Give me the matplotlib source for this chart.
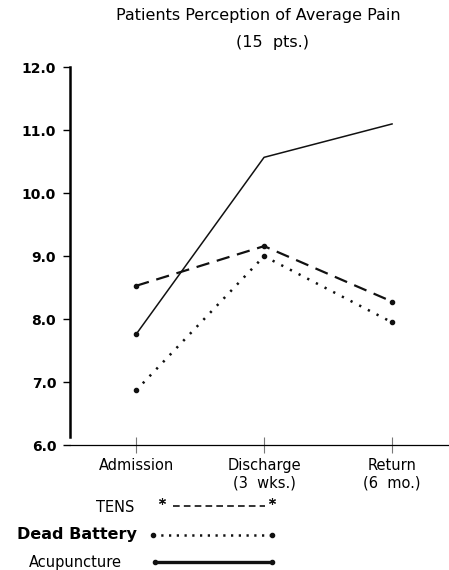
import matplotlib
matplotlib.use('Agg')
import matplotlib.pyplot as plt
from matplotlib.lines import Line2D

plt.rcParams['font.family'] = ['DejaVu Sans']

# данные
stages = ['Admission', 'Discharge\n(3  wks.)', 'Return\n(6  mo.)']
tens = [8.53, 9.16, 8.28]
dead_battery = [6.87, 9.00, 7.95]
acupuncture = [7.76, 10.57, 11.10]
y_ticks = [6.0, 7.0, 8.0, 9.0, 10.0, 11.0, 12.0]
legend_names = ['TENS', 'Dead Battery', 'Acupuncture']

ink = '#111111'

fig = plt.figure(figsize=(4.49, 5.70), dpi=100)
ax = fig.add_axes([0.156, 0.219, 0.844, 0.663])

x = list(range(len(stages)))
ax.plot(x, tens, color=ink, lw=1.6, dashes=(6, 3.5), marker='o', ms=3)
ax.plot(x, dead_battery, color=ink, lw=1.8, dashes=(0.9, 3), marker='o', ms=3)
ax.plot(x, acupuncture, color=ink, lw=1.1, marker='o', ms=3, markevery=[0])

ax.set_xlim(-0.516, 2.445)
ax.set_ylim(6.0, 12.0)

ax.spines['top'].set_visible(False)
ax.spines['right'].set_visible(False)
ax.spines['left'].set_linewidth(1.8)
ax.spines['left'].set_bounds(6.13, 12.0)
ax.spines['bottom'].set_linewidth(0.9)

ax.set_yticks(y_ticks)
ax.set_yticklabels([f'{v:.1f}' for v in y_ticks], fontsize=10, fontweight='bold')
ax.tick_params(axis='y', direction='out', length=5, width=1, pad=5)

ax.set_xticks(x)
ax.set_xticklabels(stages, fontsize=10.5, linespacing=1.25)
ax.tick_params(axis='x', direction='inout', length=12, width=0.8,
               color='#777777', pad=3)

fig.text(0.576, 0.973, 'Patients Perception of Average Pain',
         ha='center', va='center', fontsize=11.5)
fig.text(0.608, 0.925, '(15  pts.)', ha='center', va='center', fontsize=11.5)

# легенда вручную
lax = fig.add_axes([0.0, 0.0, 1.0, 0.14])
lax.set_xlim(0, 1)
lax.set_ylim(0, 1)
lax.axis('off')

rows = [0.777, 0.44, 0.10]
lax.text(0.30, rows[0], legend_names[0], ha='right', va='center', fontsize=10.5)
lax.text(0.305, rows[1], legend_names[1], ha='right', va='center',
         fontsize=11.5, fontweight='bold')
lax.text(0.272, rows[2], legend_names[2], ha='right', va='center', fontsize=10.5)

lax.add_line(Line2D([0.385, 0.59], [rows[0] + 0.03, rows[0] + 0.03], color=ink,
                    lw=1.2, dashes=(4, 2.5)))
lax.plot([0.36, 0.605], [rows[0] + 0.09, rows[0] + 0.09], ls='none',
         marker=(6, 2, 0), ms=5, color=ink, mew=0.8)
lax.add_line(Line2D([0.34, 0.605], [rows[1], rows[1]], color=ink, lw=1.8,
                    dashes=(0.9, 2.2), marker='o', ms=3, markevery=[0, 1]))
lax.add_line(Line2D([0.345, 0.605], [rows[2], rows[2]], color=ink, lw=2.4,
                    marker='o', ms=3, markevery=[0, 1]))

fig.savefig('out.png', dpi=100)
